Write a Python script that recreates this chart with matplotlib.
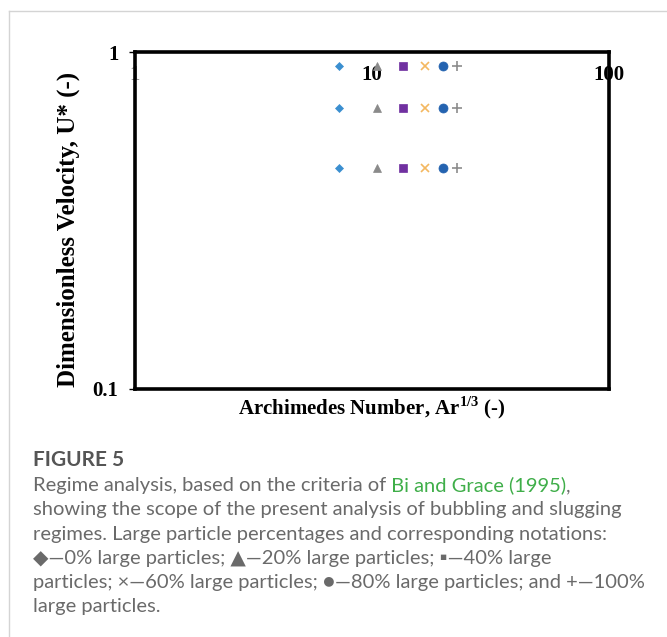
import matplotlib
matplotlib.use("Agg")
import matplotlib.pyplot as plt
from matplotlib.lines import Line2D

plt.rcParams["mathtext.fontset"] = "custom"
plt.rcParams["mathtext.rm"] = "Liberation Serif:bold"
plt.rcParams["mathtext.bf"] = "Liberation Serif:bold"

# Ar^(1/3) for each large-particle fraction, and the U* levels tested
percent = ["0%", "20%", "40%", "60%", "80%", "100%"]
ar13 = [7.26, 10.47, 13.48, 16.73, 19.88, 22.77]
u_star = [0.909, 0.683, 0.453]

markers = ["D", "^", "s", "x", "o", "+"]
colors = ["#3b8fd0", "#8a8a8a", "#7030a0", "#f4b860", "#2463b0", "#8c8c8c"]
sizes = [4, 6, 6, 6, 6.5, 7]

fig = plt.figure(figsize=(6.67, 6.37), dpi=100)
ax = fig.add_axes([135 / 667, 1 - 389 / 637, 474 / 667, 337 / 637])

for xv, m, c, s in zip(ar13, markers, colors, sizes):
    ax.plot([xv] * len(u_star), u_star, linestyle="none", marker=m, color=c,
            markersize=s, markeredgewidth=1.2 if m in "x+" else 0.5)

ax.set_xscale("log")
ax.set_yscale("log")
ax.set_xlim(1, 100)
ax.set_ylim(0.1, 1)
ax.set_xticks([1, 10, 100])
ax.set_xticklabels(["1", "10", "100"])
ax.set_yticks([0.1, 1])
ax.set_yticklabels(["0.1", "1"])
ax.minorticks_off()

serif = {"family": "Liberation Serif", "weight": "bold"}
ax.xaxis.set_ticks_position("top")
ax.tick_params(axis="x", length=0, pad=-24, labelsize=15)
ax.tick_params(axis="y", length=4, width=1, direction="out", labelsize=15, pad=8)
for lab in ax.get_xticklabels() + ax.get_yticklabels():
    lab.set_fontfamily("Liberation Serif")
    lab.set_fontweight("bold")
ax.get_xticklabels()[0].set_color("#9a9a9a")
for sp in ax.spines.values():
    sp.set_linewidth(2.6)

ax.set_xlabel(r"Archimedes Number, Ar$^{\mathbf{1/3}}$ (-)", fontdict=serif,
              fontsize=15, labelpad=4)
ax.set_ylabel("Dimensionless Velocity, U* (-)", fontdict=serif, fontsize=18)
ax.yaxis.set_label_coords(-0.115, 0.472)

# caption frame
fig.add_artist(Line2D([9 / 667, 9 / 667], [0, 1 - 11 / 637], color="#d4d4d4", lw=1))
fig.add_artist(Line2D([9 / 667, 1], [1 - 11 / 637, 1 - 11 / 637], color="#d4d4d4", lw=1))

cap_font = ["Lato", "DejaVu Sans"]
grey = "#6a6a6a"
fig.text(33 / 667, 1 - 466 / 637, "FIGURE 5", family=cap_font, fontsize=15,
         fontweight="bold", color="#555555", va="baseline")

lines = [
    [("Regime analysis, based on the criteria of", grey),
     (" Bi and Grace (1995)", "#3fae49"), (",", grey)],
    [("showing the scope of the present analysis of bubbling and slugging", grey)],
    [("regimes. Large particle percentages and corresponding notations:", grey)],
    [("\u25c6\u20140% large particles; \u25b2\u201420% large particles; \u25aa\u201440% large", grey)],
    [("particles; \u00d7\u201460% large particles; \u25cf\u201480% large particles; and +\u2014100%", grey)],
    [("large particles.", grey)],
]
line_base = [491, 515, 540, 564, 588, 612]

fig.canvas.draw()
renderer = fig.canvas.get_renderer()

for parts, py in zip(lines, line_base):
    x = 33 / 667
    for txt, col in parts:
        t = fig.text(x, 1 - py / 637, txt, family=cap_font, fontsize=14.5,
                     color=col, va="baseline")
        x += t.get_window_extent(renderer=renderer).width / fig.bbox.width

fig.savefig("out.png", dpi=100)
